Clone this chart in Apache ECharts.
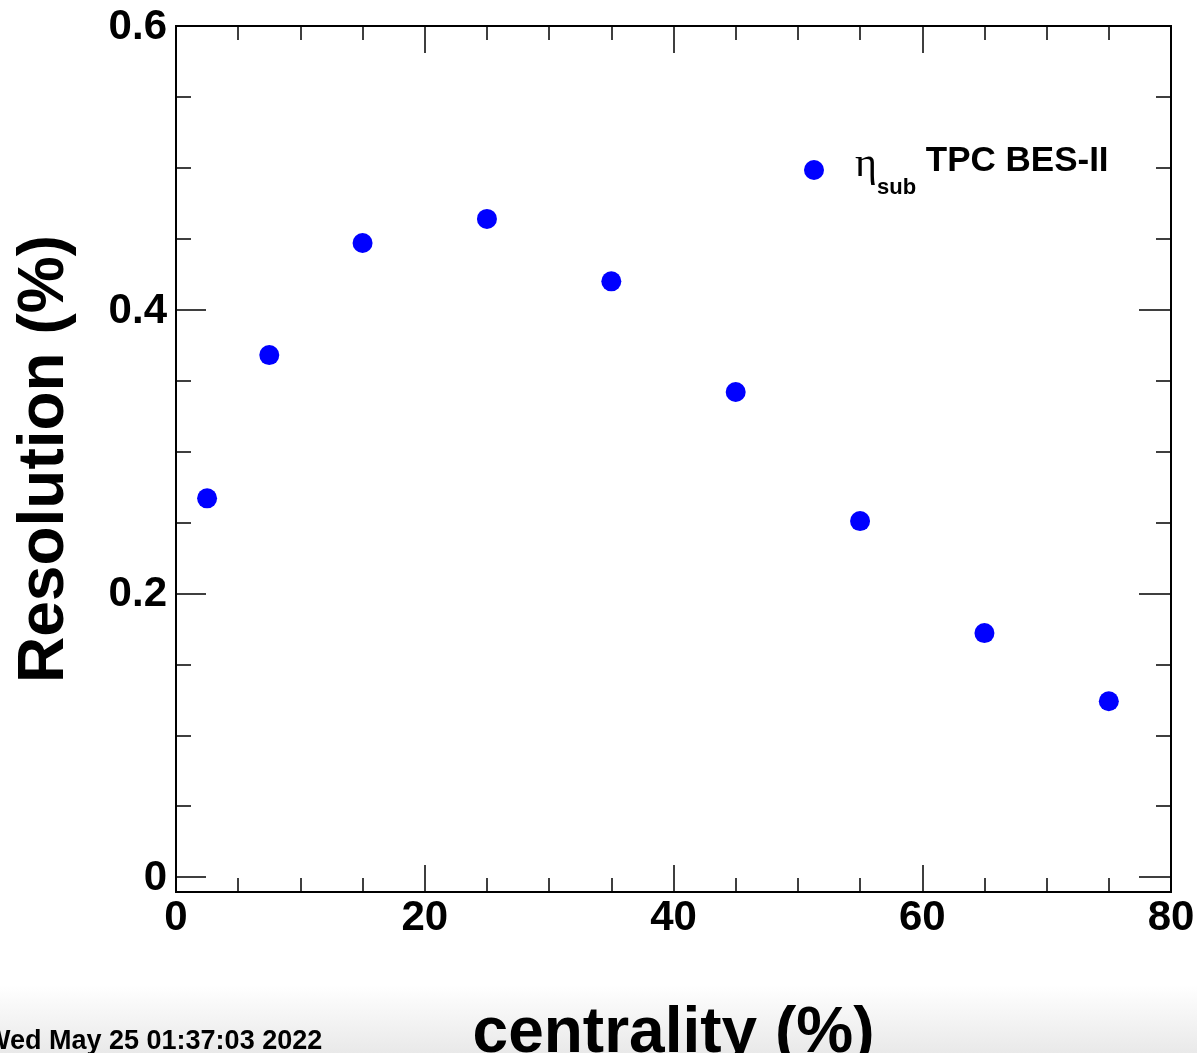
<!DOCTYPE html>
<html><head><meta charset="utf-8">
<script src="https://cdn.jsdelivr.net/npm/echarts@6/dist/echarts.min.js"></script>
<style>html,body{margin:0;padding:0;background:#fff}#c{width:1197px;height:1053px}</style>
</head><body><div id="c"></div>
<script>
const centrality = [2.5, 7.5, 15, 25, 35, 45, 55, 65, 75];
const resolution = [0.267, 0.368, 0.447, 0.464, 0.420, 0.342, 0.251, 0.172, 0.124];
const yMajorTicks = [0, 0.2, 0.4, 0.6];
const yMinorTicks = [0.05, 0.1, 0.15, 0.25, 0.3, 0.35, 0.45, 0.5, 0.55];
const xTickLabels = [0, 20, 40, 60, 80];
const seriesName = 'ηsub TPC BES-II';
const xTitle = 'centrality (%)';
const yTitle = 'Resolution (%)';
const stamp = 'Wed May 25 01:37:03 2022';

const FONT = 'Liberation Sans';
const Y_MIN = -0.0105, Y_MAX = 0.6;
const lineStyle = { color: '#000', width: 2 };

function yAxisDef(pos, ticks, len, withLabels, withName) {
  return {
    type: 'value', position: pos, min: Y_MIN, max: Y_MAX,
    axisLine: { show: true, onZero: false, lineStyle },
    axisTick: { show: true, inside: true, length: len, customValues: ticks, lineStyle: { color: '#000', width: 1.5 } },
    axisLabel: withLabels ? { show: true, customValues: yMajorTicks, margin: 9, color: '#000',
      fontFamily: FONT, fontWeight: 'bold', fontSize: 42,
      formatter: v => '{a|' + (Math.abs(v) < 1e-9 ? '0' : String(+v.toFixed(1))) + '}',
      rich: { a: { fontFamily: FONT, fontWeight: 'bold', fontSize: 42, lineHeight: 42, padding: [3, 0, 0, 0], color: '#000' } } } : { show: false },
    splitLine: { show: false },
    name: withName ? yTitle : '', nameLocation: 'middle', nameGap: 99, nameRotate: 90,
    nameTextStyle: { fontFamily: FONT, fontWeight: 'bold', fontSize: 64, color: '#000' }
  };
}
function xAxisDef(pos, withLabels, withName) {
  return {
    type: 'value', position: pos, min: xTickLabels[0], max: xTickLabels[xTickLabels.length - 1], interval: 20,
    axisLine: { show: true, onZero: false, lineStyle },
    axisTick: { show: true, inside: true, length: 27, lineStyle: { color: '#000', width: 1.5 } },
    minorTick: { show: true, splitNumber: 4, length: 14, lineStyle: { color: '#000', width: 1.5 } },
    axisLabel: withLabels ? { show: true, margin: 5, color: '#000', fontFamily: FONT, fontWeight: 'bold', fontSize: 42 } : { show: false },
    splitLine: { show: false }, minorSplitLine: { show: false },
    name: withName ? xTitle : '', nameLocation: 'middle', nameGap: 110,
    nameTextStyle: { fontFamily: FONT, fontWeight: 'bold', fontSize: 64, color: '#000' }
  };
}

const chart = echarts.init(document.getElementById('c'), null, { renderer: 'canvas' });
chart.setOption({
  backgroundColor: '#fff',
  animation: false,
  grid: { left: 176, right: 26, top: 26, bottom: 161, containLabel: false, outerBoundsMode: 'none' },
  xAxis: [xAxisDef('bottom', true, true), xAxisDef('top', false, false)],
  yAxis: [
    yAxisDef('left', yMajorTicks, 30, true, true),
    yAxisDef('left', yMinorTicks, 15, false, false),
    yAxisDef('right', yMajorTicks, 32, false, false),
    yAxisDef('right', yMinorTicks, 15, false, false)
  ],
  legend: {
    left: 804, top: 144, padding: 0, itemWidth: 20, itemHeight: 20, icon: 'circle',
    selectedMode: false, data: [seriesName],
    formatter: () => '{eta|η}{sub|sub}{b| TPC BES-II}{sp| }',
    textStyle: { rich: {
      eta: { fontFamily: 'Liberation Serif', fontSize: 42, lineHeight: 44, verticalAlign: 'top', padding: [0, 0, 0, 26], color: '#000' },
      sub: { fontFamily: FONT, fontWeight: 'bold', fontSize: 22, lineHeight: 26, verticalAlign: 'top', padding: [33, 0, 0, 0], color: '#000' },
      b: { fontFamily: FONT, fontWeight: 'bold', fontSize: 35, lineHeight: 44, verticalAlign: 'top', color: '#000' },
      sp: { fontSize: 1, lineHeight: 52, verticalAlign: 'top', color: 'rgba(0,0,0,0)' }
    } }
  },
  series: [{
    name: seriesName, type: 'scatter', xAxisIndex: 0, yAxisIndex: 0,
    symbol: 'circle', symbolSize: 20, itemStyle: { color: '#0000ff', opacity: 1 },
    data: centrality.map((c, i) => [c, resolution[i]])
  }],
  graphic: [
    { type: 'rect', z: -10, silent: true, shape: { x: 0, y: 985, width: 1197, height: 68 },
      style: { fill: new echarts.graphic.LinearGradient(0, 0, 0, 1, [{ offset: 0, color: '#ffffff' }, { offset: 1, color: '#e9e9e9' }]) } },
    { type: 'text', z: 10, silent: true, x: -15, y: 1055,
      style: { text: stamp, font: 'bold 27px "Liberation Sans"', fill: '#000', verticalAlign: 'bottom', align: 'left' } }
  ]
});
</script>
</body></html>
